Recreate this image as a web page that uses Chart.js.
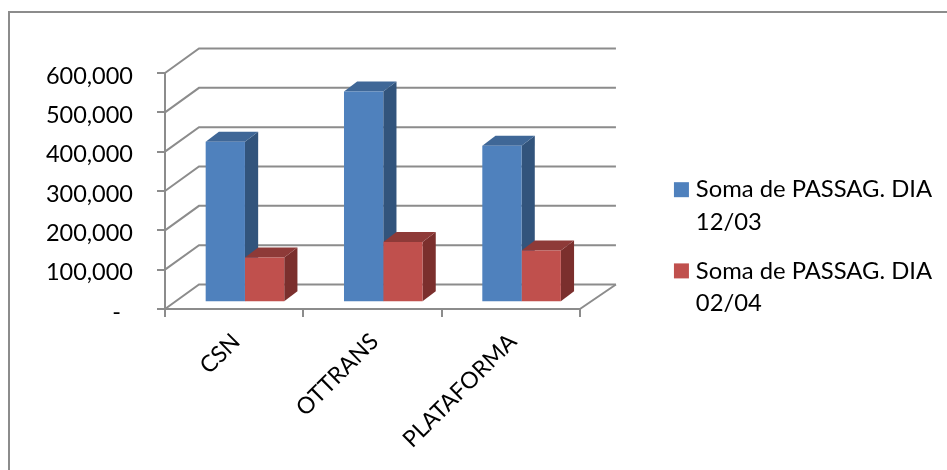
<!DOCTYPE html>
<html>
<head>
<meta charset="utf-8">
<title>Soma de PASSAG.</title>
<script src="https://cdn.jsdelivr.net/npm/chart.js@4"></script>
<style>
  html, body { margin: 0; padding: 0; background: #fff; }
  canvas { display: block; }
</style>
</head>
<body>
<canvas id="chart" width="947" height="470"></canvas>
<script>
const categories = ['CSN', 'OTTRANS', 'PLATAFORMA'];
const passagDia1203 = [408000, 536000, 398000];
const passagDia0204 = [114000, 153000, 132000];
const seriesLabels = [['Soma de PASSAG. DIA', '12/03'], ['Soma de PASSAG. DIA', '02/04']];

const GRAY = '#8c8c8c';
// depth of the back wall and of the bars, in px
const wall = { dxLeft: 34, dxRight: 36, dy: 24.5 };
const barShift = { dx: 10.8, dy: 6.7 };
const barDepth = { dx: 13.2, dy: 10 };

function poly(ctx, color, pts) {
  ctx.fillStyle = color;
  ctx.beginPath();
  pts.forEach((p, i) => i ? ctx.lineTo(p[0], p[1]) : ctx.moveTo(p[0], p[1]));
  ctx.closePath();
  ctx.fill();
}

// outer frame, back wall grid and floor
const wallPlugin = {
  id: 'wall',
  beforeDraw(chart) {
    const { ctx, chartArea: area, scales } = chart;
    ctx.save();
    ctx.strokeStyle = GRAY;
    ctx.lineWidth = 2;
    ctx.beginPath();
    ctx.moveTo(9, 470);
    ctx.lineTo(9, 12);
    ctx.lineTo(947, 12);
    ctx.stroke();
    scales.y.ticks.forEach(t => {
      const y = scales.y.getPixelForValue(t.value);
      ctx.beginPath();
      ctx.moveTo(area.left, y);
      ctx.lineTo(area.left + wall.dxLeft, y - wall.dy);
      ctx.lineTo(area.right + wall.dxRight, y - wall.dy);
      ctx.stroke();
    });
    ctx.beginPath();
    ctx.moveTo(area.right, area.bottom);
    ctx.lineTo(area.right + wall.dxRight, area.bottom - wall.dy);
    ctx.stroke();
    ctx.restore();
  }
};

// side and top faces of the bars, then the library draws the fronts on top
const barsPlugin = {
  id: 'bars3d',
  beforeDatasetsDraw(chart) {
    const ctx = chart.ctx;
    ctx.save();
    ctx.translate(barShift.dx, -barShift.dy);
    chart.data.datasets.forEach((ds, i) => {
      chart.getDatasetMeta(i).data.forEach(bar => {
        const r = bar.x + bar.width / 2, l = bar.x - bar.width / 2;
        const d = barDepth;
        poly(ctx, ds.sideColor, [[r, bar.y], [r, bar.base], [r + d.dx, bar.base - d.dy], [r + d.dx, bar.y - d.dy]]);
        poly(ctx, ds.topColor, [[l, bar.y], [r, bar.y], [r + d.dx, bar.y - d.dy], [l + d.dx, bar.y - d.dy]]);
      });
    });
  },
  afterDatasetsDraw(chart) {
    chart.ctx.restore();
  }
};

new Chart(document.getElementById('chart'), {
  type: 'bar',
  data: {
    labels: categories,
    datasets: [
      { label: seriesLabels[0], data: passagDia1203, backgroundColor: '#4f81bd', sideColor: '#32547c', topColor: '#3f6797', clip: false },
      { label: seriesLabels[1], data: passagDia0204, backgroundColor: '#c0504d', sideColor: '#7b2f2d', topColor: '#8e3a38', clip: false }
    ]
  },
  options: {
    responsive: false,
    animation: false,
    categoryPercentage: 0.568,
    barPercentage: 1,
    layout: { padding: { left: 0, top: 32, right: 5, bottom: 0 } },
    scales: {
      x: {
        grid: { drawOnChartArea: false, color: GRAY, lineWidth: 2, tickLength: 8 },
        border: { color: GRAY, width: 2 },
        ticks: { color: '#000', font: { family: 'Lato', size: 23 }, minRotation: 45, maxRotation: 45, padding: 11, labelOffset: 2 },
        afterFit(s) { s.height = 161; }
      },
      y: {
        min: 0,
        max: 600000,
        grid: { drawOnChartArea: false, color: GRAY, lineWidth: 2, tickLength: 8 },
        border: { color: GRAY, width: 2 },
        ticks: {
          stepSize: 100000,
          color: '#000',
          font: { family: 'Lato', size: 23.5 },
          padding: 24,
          labelOffset: 3,
          callback: v => v === 0 ? '-  ' : v.toLocaleString('en-US')
        },
        afterFit(s) { s.width = 165; }
      },
      // empty axes: room for the floor depth before the legend, and headroom above
      // the plot that leaves the legend centred higher up
      gap: {
        type: 'linear',
        position: 'right',
        grid: { display: false },
        border: { display: false },
        ticks: { display: false },
        afterFit(s) { s.width = 83; }
      },
      gapTop: {
        type: 'linear',
        position: 'top',
        grid: { display: false },
        border: { display: false },
        ticks: { display: false },
        afterFit(s) { s.height = 41; }
      }
    },
    plugins: {
      tooltip: { enabled: false },
      legend: {
        position: 'right',
        maxWidth: 295,
        labels: {
          color: '#000',
          font: { family: 'Lato', size: 23.8, lineHeight: 1.37 },
          padding: 16,
          boxWidth: 5,
          boxHeight: 15,
          usePointStyle: true,
          generateLabels(chart) {
            return chart.data.datasets.map((ds, i) => ({
              text: ds.label,
              fillStyle: ds.backgroundColor,
              strokeStyle: ds.backgroundColor,
              lineWidth: 0,
              pointStyle: 'rect',
              datasetIndex: i
            }));
          }
        }
      }
    }
  },
  plugins: [wallPlugin, barsPlugin]
});
</script>
</body>
</html>
